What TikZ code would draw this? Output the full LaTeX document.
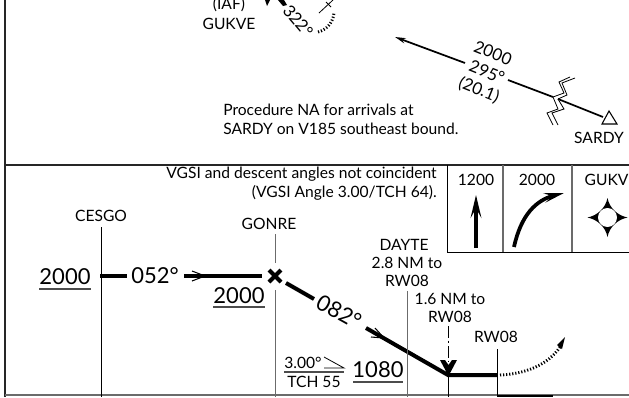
\documentclass[tikz,border=0pt]{standalone}
\usepackage{fontspec}
\setmainfont{Lato}
\usepackage{tikz}
\usetikzlibrary{arrows.meta}
\definecolor{rulegrey}{gray}{0.42}
\tikzset{
  lbl/.style={inner sep=0pt,font=\fontsize{11.7pt}{14.25pt}\selectfont},
  lblrot/.style={inner sep=0pt,font=\fontsize{12.6pt}{14pt}\selectfont},
  big/.style={inner sep=0pt,font=\fontsize{16.5pt}{18pt}\selectfont},
  frame/.style={draw=black!85,line width=1.6pt},
  grey rule/.style={draw=rulegrey,line width=0.75pt},
  fix rule/.style={draw=black,line width=0.75pt},
  leg/.style={line width=3pt},
  underl/.style={draw=black!70,line width=0.8pt},
  zig/.style={line width=0.6pt},
  dots/.style={line width=2.2pt,dash pattern=on 0.9pt off 1.4pt}
}
\begin{document}
\begin{tikzpicture}[x=0.75pt,y=-0.75pt]
\useasboundingbox (0,0) rectangle (629,397);
% frame
\coordinate (tl) at (5,0);
\coordinate (bl) at (5,397);
\coordinate (dl) at (5,165);
\coordinate (dr) at (629,165);
\coordinate (fl) at (5,395);
\coordinate (fr) at (629,395);
\draw[frame] (tl) -- (bl);
\draw[frame] (dl) -- (dr);
\draw[grey rule,line width=1.1pt] (fl) -- (fr);
% plan view
\node[lbl] (iaf) at (229,5) {(IAF)};
\node[lbl] (gukve) at (229,24) {GUKVE};
\fill (265,0) -- (270,0) -- (267,6) -- cycle;
\fill (278,0) -- (284,0) -- (287,5) -- (283,6) -- cycle;
\node[lblrot,rotate=-50] (crs322) at (298,21) {322°};
\coordinate (arca) at (318,32);
\coordinate (arcb) at (334,13);
\draw[dots] (arca) .. controls (326,30) and (333,23) .. (arcb);
\coordinate (tka) at (319,13);
\coordinate (tkb) at (333,0);
\draw[zig] (tka) -- (tkb);
\coordinate (tkc) at (326,2);
\coordinate (tkd) at (331,7);
\draw[zig] (tkc) -- (tkd);
% route from sardy
\node[lblrot,rotate=-22] (alt) at (493,53) {2000};
\node[lblrot,rotate=-22] (crs295) at (487,72) {295°};
\node[lblrot,rotate=-22] (dist) at (479,90) {(20.1)};
\coordinate (tipa) at (395,37);
\coordinate (lega) at (465,63);
\coordinate (legb) at (508,80);
\coordinate (brka) at (553,97);
\coordinate (brkb) at (558,99);
\coordinate (legc) at (603,117);
\draw[line width=1.3pt,-{Stealth[length=8pt,width=4pt]}] (lega) -- (tipa);
\draw[line width=1.3pt] (legb) -- (brka);
\draw[line width=1.3pt] (brkb) -- (legc);
\draw[zig] (brka) -- (564,93) -- (559,82) -- (570,77);
\draw[zig] (brkb) -- (567,95) -- (562,83) -- (575,78);
\draw[zig] (brka) -- (558,109) -- (547,113) -- (553,125);
\draw[zig] (brkb) -- (564,109) -- (552,113) -- (558,125);
\draw[line width=0.8pt,fill=white] (609,111) -- (617,124) -- (602,124) -- cycle;
\node[lbl] (sardy) at (599,138) {SARDY};
\node[lbl,align=left,anchor=north west] (note) at (223,104) {Procedure NA for arrivals at\\SARDY on V185 southeast bound.};
% profile note
\node[lbl,align=right,anchor=north east] (vgsi) at (437,167) {VGSI and descent angles not coincident\\(VGSI Angle 3.00/TCH 64).};
% minimums box
\coordinate (boxa) at (447,165);
\coordinate (boxb) at (447,252);
\coordinate (boxc) at (629,252);
\coordinate (boxd) at (503,165);
\coordinate (boxe) at (503,252);
\coordinate (boxf) at (572,165);
\coordinate (boxg) at (572,252);
\draw[fix rule] (boxa) -- (boxb) -- (boxc);
\draw[grey rule,line width=1pt] (boxd) -- (boxe);
\draw[grey rule,line width=1pt] (boxf) -- (boxg);
\node[lbl] (alta) at (476,180) {1200};
\node[lbl] (altb) at (537,180) {2000};
\node[lbl] (fixg) at (611,180) {GUKVE};
\coordinate (upa) at (476,248);
\coordinate (upb) at (476,195);
\draw[line width=2.8pt,-{Stealth[length=17pt,width=8pt,inset=7pt]}] (upa) -- (upb);
\coordinate (cva) at (514,247);
\coordinate (cvb) at (564,193);
\draw[line width=2.8pt,-{Stealth[length=15pt,width=7pt,inset=6pt]}] (cva) .. controls (521,215) and (536,200) .. (cvb);
\fill (607.5,198) .. controls (609.5,208) and (617.5,215.5) .. (627.5,217.5)
  .. controls (617.5,219.5) and (609.5,227) .. (607.5,237)
  .. controls (605.5,227) and (597.5,219.5) .. (587.5,217.5)
  .. controls (597.5,215.5) and (605.5,208) .. cycle;
\node[circle,fill=white,minimum size=14.2pt,inner sep=0pt] (faf) at (607.5,217.5) {};
% profile view
\node[lbl] (cesgo) at (101,216) {CESGO};
\node[lbl] (gonre) at (269,224) {GONRE};
\coordinate (cesa) at (101,227);
\coordinate (cesb) at (101,397);
\draw[fix rule] (cesa) -- (cesb);
\coordinate (gona) at (275,234);
\coordinate (gonb) at (275,263);
\coordinate (gonc) at (275,290);
\coordinate (gond) at (275,397);
\draw[grey rule] (gona) -- (gonb);
\draw[grey rule] (gonc) -- (gond);
\node[big] (alt2a) at (65,277) {2000};
\coordinate (ula) at (39,289);
\coordinate (ulb) at (91,289);
\draw[underl] (ula) -- (ulb);
\node[big] (crs052) at (155,276) {052°};
\coordinate (la) at (100,276);
\coordinate (lb) at (127,276);
\coordinate (lc) at (184,276);
\coordinate (ld) at (262,276);
\draw[leg] (la) -- (lb);
\draw[leg] (lc) -- (ld);
\draw[line width=0.8pt] (192,271) -- (205,276) -- (192,281);
% fix cross at gonre
\coordinate (xa) at (269,270);
\coordinate (xb) at (281,282);
\coordinate (xc) at (281,270);
\coordinate (xd) at (269,282);
\draw[line width=3pt] (xa) -- (xb);
\draw[line width=3pt] (xc) -- (xd);
\node[big] (alt2b) at (239,296) {2000};
\coordinate (umc) at (213,307);
\coordinate (umd) at (265,307);
\draw[underl] (umc) -- (umd);
\coordinate (dsa) at (286,283);
\coordinate (dsb) at (314,299);
\coordinate (dsc) at (366,328);
\coordinate (dsd) at (448,375);
\coordinate (dse) at (497,375);
\draw[leg] (dsa) -- (dsb);
\draw[leg,line join=miter] (dsc) -- (dsd) -- (dse);
\draw[line width=0.8pt] (375,328) -- (384,338) -- (371,337);
\node[big,rotate=-29] (crs082) at (339,312) {082°};
\node[lbl] (dayte) at (404,245) {DAYTE};
\node[lbl] (dayta) at (407,263) {2.8 NM to};
\node[lbl] (daytb) at (407,281) {RW08};
\coordinate (dya) at (407,291);
\coordinate (dyb) at (407,397);
\draw[grey rule] (dya) -- (dyb);
\node[lbl] (mapa) at (450,299) {1.6 NM to};
\node[lbl] (mapb) at (450,317) {RW08};
\coordinate (mpa) at (448.5,326);
\coordinate (mpb) at (448.5,362);
\coordinate (mpc) at (448.5,375);
\coordinate (mpd) at (448.5,397);
\draw[fix rule,dash pattern=on 9pt off 2pt on 2pt off 2pt] (mpa) -- (mpb);
\draw[fix rule] (mpc) -- (mpd);
\fill (440,360) -- (445,360) -- (448.5,365) -- (452,360) -- (457,360) -- (448.5,376) -- cycle;
\node[lbl] (rwy) at (496,337) {RW08};
\coordinate (rwa) at (497,349);
\coordinate (rwb) at (497,397);
\draw[fix rule] (rwa) -- (rwb);
\coordinate (rwc) at (553,396);
\draw[line width=2pt] (rwb |- rwc) -- (rwc);
\coordinate (msa) at (500,375);
\coordinate (msb) at (560,347);
\draw[dots] (msa) .. controls (525,374) and (548,365) .. (msb);
\fill (565,337) -- (562,349) -- (557,345) -- cycle;
% vertical guidance
\node[lbl] (gsa) at (303,363) {3.00°};
\node[lbl] (gsb) at (314,382) {TCH 55};
\coordinate (gsl) at (284,372);
\coordinate (gsr) at (344,372);
\draw[underl] (gsl) -- (gsr);
\coordinate (anga) at (324,357);
\coordinate (angb) at (344,368);
\coordinate (angc) at (324,368);
\draw[line width=0.6pt] (anga) -- (angb) -- (angc);
\node[big] (tdze) at (378,370) {1080};
\coordinate (uea) at (353,382);
\coordinate (ueb) at (403,382);
\draw[underl] (uea) -- (ueb);
\end{tikzpicture}
\end{document}
